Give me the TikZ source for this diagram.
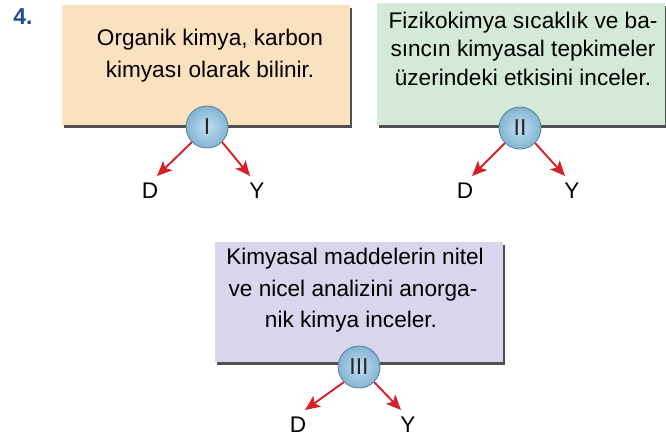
\documentclass[tikz,border=0pt]{standalone}
\usepackage{fontspec}
\setmainfont{Liberation Sans}
\usetikzlibrary{arrows.meta,shadows}
\definecolor{kutuA}{RGB}{250,226,192}
\definecolor{kutuB}{RGB}{212,234,214}
\definecolor{kutuC}{RGB}{218,212,236}
\definecolor{golge}{RGB}{80,80,80}
\definecolor{daireA}{RGB}{192,222,240}
\definecolor{daireB}{RGB}{132,180,210}
\definecolor{daireK}{RGB}{84,124,156}
\definecolor{okrenk}{RGB}{214,32,40}
\definecolor{baslik}{RGB}{40,74,138}
\tikzset{
  kutu/.style={minimum width=288pt, minimum height=120pt, inner sep=0pt,
    drop shadow={shadow xshift=2pt, shadow yshift=-3pt, fill=golge, opacity=1}},
  satir/.style={anchor=base, inner sep=0pt, font=\fontsize{22.6}{27}\selectfont},
  daire/.style={circle, minimum size=42pt, inner sep=0pt, draw=daireK, line width=.8pt,
    inner color=daireA, outer color=daireB, text=black!85, font=\fontsize{23}{27}\selectfont},
  harf/.style={inner xsep=1pt, inner ysep=7pt, font=\fontsize{22.6}{27}\selectfont},
  ok/.style={draw=okrenk, line width=1.9pt, -{Stealth[length=15pt,width=13pt,inset=3.5pt]}}
}
\begin{document}
\begin{tikzpicture}[x=1pt,y=-1pt]
\useasboundingbox (0,0) rectangle (666,440);
\node[font=\bfseries\fontsize{23}{27}\selectfont, text=baslik] (no) at (23,17) {4.};

% I
\node[kutu, fill=kutuA] (b1) at (206,64.5) {};
\node[satir] (t1a) at (210,45) {Organik kimya, karbon};
\node[satir] (t1b) at (210,77) {kimyası olarak bilinir.};
\node[daire] (c1) at (207,127) {I};
\node[harf] (d1) at (150,191) {D};
\node[harf] (y1) at (257,191) {Y};
\draw[ok] (c1.225)--(d1.65);
\draw[ok] (c1.315)--(y1.115);

% II
\node[kutu, fill=kutuB, minimum height=122pt] (b2) at (521,64) {};
\node[satir] (t2a) at (523,28) {Fizikokimya sıcaklık ve ba-};
\node[satir] (t2b) at (523,56.5) {sıncın kimyasal tepkimeler};
\node[satir] (t2c) at (523,85) {üzerindeki etkisini inceler.};
\node[daire] (c2) at (520,128) {II};
\node[harf] (d2) at (465,191) {D};
\node[harf] (y2) at (572,191) {Y};
\draw[ok] (c2.225)--(d2.65);
\draw[ok] (c2.315)--(y2.115);

% III
\node[kutu, fill=kutuC] (b3) at (359,302) {};
\node[satir] (t3a) at (355,264) {Kimyasal maddelerin nitel};
\node[satir] (t3b) at (353,296) {ve nicel analizini anorga-};
\node[satir] (t3c) at (351,327) {nik kimya inceler.};
\node[daire] (c3) at (359,367) {III};
\node[harf] (d3) at (298,425) {D};
\node[harf] (y3) at (408,425) {Y};
\draw[ok] (c3.225)--(d3.65);
\draw[ok] (c3.315)--(y3.115);

\end{tikzpicture}
\end{document}
